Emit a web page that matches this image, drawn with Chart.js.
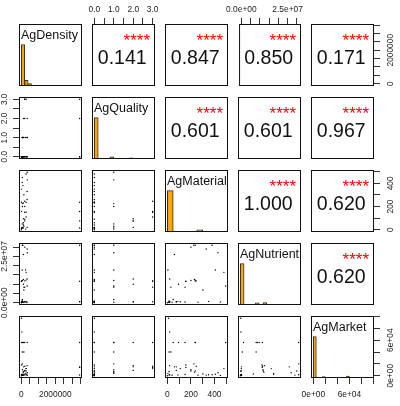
<!DOCTYPE html>
<html>
<head>
<meta charset="utf-8">
<title>Ag pairs</title>
<script src="https://cdn.jsdelivr.net/npm/chart.js@4.4.0/dist/chart.umd.min.js"></script>
<style>
  html, body { margin: 0; padding: 0; background: #fff; }
  #wrap { position: relative; width: 400px; height: 406px; overflow: hidden; }
  #wrap canvas { position: absolute; }
</style>
</head>
<body>
<div id="wrap"></div>
<script>
// variable names (diagonal labels)
const varNames = ["AgDensity", "AgQuality", "AgMaterial", "AgNutrient", "AgMarket"];

// observations, one entry per row
const agDensity = [0, 60000, 120000, 200000, 280000, 340000, 3430000, 10000, 60000,
  120000, 200000, 280000, 3430000, 10000, 60000, 120000, 200000, 3430000, 280000, 340000,
  10000, 60000, 120000, 200000, 3430000, 340000, 10000, 30000, 60000, 150000,
  150000, 50000, 350000, 250000, 90000, 60000, 280000, 120000, 200000, 340000];
const agQuality = [0, 0, 0, 0, 0, 0, 0, 0, 0,
  1, 2, 3, 2, 0, 1, 0, 3, 3, 0, 2,
  0, 1, 2, 3, 0, 1, 0, 0, 0, 1,
  0, 0, 1, 1, 0, 1, 0, 0, 0, 0];
const agMaterial = [0, 20, 40, 90, 150, 260, 15, 350, 450,
  15, 76, 110, 76, 157, 200, 230, 245, 157, 237, 20,
  237, 50, 95, 150, 237, 495, 10, 20, 15, 30,
  302, 407, 430, 5, 380, 225, 480, 60, 200, 330];
const agNutrient = [0, 500000, 300000, 600000, 400000, 300000, 500000, 700000, 400000,
  300000, 400000, 500000, 600000, 11500000, 12000000, 12500000, 11800000, 11600000, 12200000, 12800000,
  11700000, 1700000, 10000000, 8400000, 31000000, 9000000, 200000, 300000, 1000000, 8400000,
  6900000, 17700000, 27000000, 17700000, 31000000, 31000000, 16400000, 26000000, 30000000, 29000000];
const agMarket = [0, 1500, 800, 1200, 2000, 900, 1100, 1500, 500,
  7000, 9000, 12000, 15000, 18000, 10000, 6000, 16000, 14000, 8000, 17000,
  56000, 56000, 56000, 56000, 56000, 56000, 97000, 74000, 40000, 40000,
  3000, 2500, 5000, 4000, 1500, 20000, 12000, 15000, 8000, 1000];

// correlations for the upper panels, row by row
const corrValues = [0.141, 0.847, 0.850, 0.171, 0.601, 0.601, 0.967, 1.000, 0.620, 0.620];
const corrStars = ["****", "****", "****", "****", "****", "****", "****", "****", "****", "****"];

// histogram counts on the diagonal
const densityBinWidth = 200000;
const densityCounts = [250, 35, 14, 0, 0, 0, 0, 0, 0, 0, 0, 0, 0, 0, 0, 0, 0, 3];
const qualityBinWidth = 0.2;
const qualityCounts = [275, 0, 0, 0, 14, 0, 0, 0, 0, 8, 0, 0, 0, 0, 5];
const materialBinWidth = 50;
const materialCounts = [270, 4, 3, 2, 1, 14, 2, 1, 2, 3];
const nutrientBinWidth = 2000000;
const nutrientCounts = [262, 0, 0, 2, 14, 1, 16, 0, 4, 1, 0, 0, 0, 2, 1, 3];
const marketBinWidth = 5000;
const marketCounts = [268, 3, 4, 10, 1, 0, 0, 0, 2, 0, 0, 12, 0, 0, 1, 0, 0, 0, 0, 1];

// axis ticks and their labels
const densityTicks = [0, 500000, 1000000, 1500000, 2000000, 2500000, 3000000, 3500000];
const densityTickLabels = ["0", "", "", "", "2000000", "", "", ""];
const qualityTicks = [0, 0.5, 1, 1.5, 2, 2.5, 3];
const qualityTickLabels = ["0.0", "", "1.0", "", "2.0", "", "3.0"];
const materialTicks = [0, 100, 200, 300, 400, 500];
const materialTickLabels = ["0", "", "200", "", "400", ""];
const nutrientTicks = [0, 5000000, 10000000, 15000000, 20000000, 25000000, 30000000];
const nutrientTickLabels = ["0.0e+00", "", "", "", "", "2.5e+07", ""];
const marketTicks = [0, 20000, 40000, 60000, 80000, 100000];
const marketTickLabels = ["0e+00", "", "", "6e+04", "", ""];

// layout of the 5x5 grid
const panelLeft = [19, 92, 165, 238, 311];
const panelTop = [24, 97, 170, 243, 316];
const PANEL_W = 63, PANEL_H = 62;
const EDGE = 16;
const AXIS_TOP = 24, AXIS_BOTTOM = 28, AXIS_LEFT = 19, AXIS_RIGHT = 26;
const FONT = '"Liberation Sans", Arial, sans-serif';

Chart.defaults.font.family = FONT;

const vars = [
  { values: agDensity, counts: densityCounts, bin: densityBinWidth, ticks: densityTicks, labels: densityTickLabels },
  { values: agQuality, counts: qualityCounts, bin: qualityBinWidth, ticks: qualityTicks, labels: qualityTickLabels },
  { values: agMaterial, counts: materialCounts, bin: materialBinWidth, ticks: materialTicks, labels: materialTickLabels },
  { values: agNutrient, counts: nutrientCounts, bin: nutrientBinWidth, ticks: nutrientTicks, labels: nutrientTickLabels },
  { values: agMarket, counts: marketCounts, bin: marketBinWidth, ticks: marketTicks, labels: marketTickLabels }
];
// R style range: data range plus 4% each side
vars.forEach(v => {
  const lo = Math.min(...v.values), hi = Math.max(...v.values);
  v.lo = lo - 0.04 * (hi - lo);
  v.hi = hi + 0.04 * (hi - lo);
});

// box, texts and rotated y labels
const panelPlugin = {
  id: 'panel',
  afterDraw(chart, args, o) {
    const ctx = chart.ctx, a = chart.chartArea;
    ctx.save();
    ctx.strokeStyle = '#111';
    ctx.lineWidth = 1;
    ctx.strokeRect(a.left + 0.5, a.top + 0.5, a.right - a.left - 1, a.bottom - a.top - 1);

    if (o.label) {
      ctx.fillStyle = '#111';
      ctx.font = '12.5px ' + FONT;
      ctx.textAlign = 'left';
      ctx.textBaseline = 'alphabetic';
      ctx.fillText(o.label, a.left + 2, a.top + 14.5);
    }
    if (o.corr) {
      ctx.fillStyle = '#111';
      ctx.font = '19.5px ' + FONT;
      ctx.textAlign = 'center';
      ctx.textBaseline = 'alphabetic';
      ctx.fillText(o.corr, (a.left + a.right) / 2 - 1.3, a.top + 39.5);
      ctx.fillStyle = '#ff0000';
      ctx.font = '17px ' + FONT;
      ctx.textAlign = 'right';
      ctx.fillText(o.stars, a.right - 5, a.top + 21.5);
    }
    if (o.ySide) {
      const s = chart.scales.y;
      ctx.fillStyle = '#222';
      ctx.font = '8.4px ' + FONT;
      ctx.textAlign = 'center';
      ctx.textBaseline = 'middle';
      o.yTicks.forEach((t, k) => {
        if (!o.yLabels[k]) return;
        const py = s.getPixelForValue(t);
        const px = o.ySide === 'left' ? s.right - 14.5 : s.left + 16.3;
        ctx.save();
        ctx.translate(px, py);
        ctx.rotate(-Math.PI / 2);
        ctx.fillText(o.yLabels[k], 0, 0);
        ctx.restore();
      });
    }
    ctx.restore();
  }
};

function axisOpts(v, show, pos, size) {
  const horiz = pos === 'top' || pos === 'bottom';
  return {
    type: 'linear',
    display: show,
    position: pos,
    min: v.lo,
    max: v.hi,
    offset: false,
    grid: { display: true, drawOnChartArea: false, drawTicks: true, tickLength: 6, tickColor: '#333', offset: false },
    border: { display: false },
    ticks: {
      display: horiz,
      autoSkip: false,
      maxRotation: 0,
      minRotation: 0,
      color: '#222',
      font: { size: 8.4 },
      padding: pos === 'top' ? 3.5 : 5.5,
      callback: (val, k) => v.labels[k]
    },
    afterBuildTicks: s => { s.ticks = v.ticks.map(t => ({ value: t })); },
    afterFit: s => {
      if (!show) return;
      if (horiz) s.height = size; else s.width = size;
    }
  };
}

const wrap = document.getElementById('wrap');
let corrIndex = 0;

function makePanel(i, j) {
  const vx = vars[j], vy = vars[i];
  const top = i === 0 && j % 2 === 1;
  const bottom = i === 4 && j % 2 === 0;
  const left = j === 0 && i % 2 === 1;
  const right = j === 4 && i % 2 === 0;
  const mT = EDGE + (top ? AXIS_TOP : 0), mB = EDGE + (bottom ? AXIS_BOTTOM : 0);
  const mL = EDGE + (left ? AXIS_LEFT : 0), mR = EDGE + (right ? AXIS_RIGHT : 0);

  const cv = document.createElement('canvas');
  cv.width = PANEL_W + mL + mR;
  cv.height = PANEL_H + mT + mB;
  cv.style.left = (panelLeft[j] - mL) + 'px';
  cv.style.top = (panelTop[i] - mT) + 'px';
  wrap.appendChild(cv);

  const scales = {
    x: axisOpts(vx, top || bottom, top ? 'top' : 'bottom', top ? AXIS_TOP : AXIS_BOTTOM),
    y: axisOpts(vy, left || right, left ? 'left' : 'right', left ? AXIS_LEFT : AXIS_RIGHT)
  };
  const panel = {};
  if (left || right) {
    panel.ySide = left ? 'left' : 'right';
    panel.yTicks = vy.ticks;
    panel.yLabels = vy.labels;
  }

  let type = 'scatter';
  let datasets = [];
  if (i === j) {
    // histogram
    type = 'bar';
    panel.label = varNames[i];
    scales.yh = { type: 'linear', display: false, min: 0, max: 1.5 * Math.max(...vx.counts) };
    datasets = [{
      data: vx.counts.map((c, k) => ({ x: (k + 0.5) * vx.bin, y: c })),
      xAxisID: 'x',
      yAxisID: 'yh',
      backgroundColor: '#ffa500',
      borderColor: '#333',
      borderWidth: 1,
      borderSkipped: false,
      barPercentage: 1,
      categoryPercentage: 1
    }];
  } else if (i > j) {
    // scatter
    datasets = [{
      data: vx.values.map((xv, k) => ({ x: xv, y: vy.values[k] })),
      pointRadius: 0.7,
      pointBackgroundColor: '#000',
      pointBorderWidth: 0,
      showLine: false
    }];
  } else {
    panel.corr = corrValues[corrIndex].toFixed(3);
    panel.stars = corrStars[corrIndex];
    corrIndex++;
  }

  new Chart(cv, {
    type: type,
    data: { datasets: datasets },
    options: {
      responsive: false,
      animation: false,
      events: [],
      layout: { padding: EDGE, autoPadding: false },
      plugins: { legend: { display: false }, tooltip: { enabled: false }, panel: panel },
      scales: scales
    },
    plugins: [panelPlugin]
  });
}

for (let i = 0; i < 5; i++) {
  for (let j = 0; j < 5; j++) {
    makePanel(i, j);
  }
}
</script>
</body>
</html>
